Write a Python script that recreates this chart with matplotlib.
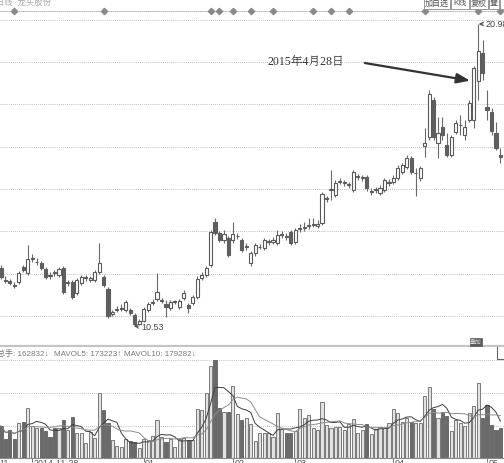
import numpy as np
import pandas as pd
import matplotlib
matplotlib.use("Agg")
import matplotlib.pyplot as plt
from matplotlib.patches import Rectangle
from matplotlib.transforms import blended_transform_factory

plt.rcParams['font.family'] = ['Liberation Sans', 'Noto Sans CJK SC', 'DejaVu Sans']

# 日K线数据
opens = [12.54, 12.12, 12.09, 11.95, 12.05, 12.57, 12.36, 12.85, 12.74, 12.71,
         12.50, 12.29, 12.40, 12.29, 12.54, 12.02, 12.05, 11.67, 12.02, 12.19,
         12.12, 12.12, 12.40, 12.23, 11.81, 10.95, 11.08, 11.12, 11.08, 11.08,
         10.91, 10.60, 10.70, 11.08, 11.33, 11.46, 11.40, 11.29, 11.15, 11.36,
         11.19, 11.50, 11.26, 11.33, 11.53, 12.19, 12.29, 12.64, 14.13, 13.75,
         13.51, 13.58, 13.51, 13.64, 13.51, 13.26, 12.71, 13.06, 13.26, 13.23,
         13.44, 13.44, 13.40, 13.68, 13.64, 13.78, 13.44, 13.89, 13.92, 13.99,
         14.03, 13.99, 14.09, 14.92, 15.24, 15.06, 15.51, 15.48, 15.41, 15.24,
         15.69, 15.65, 15.69, 15.17, 15.24, 15.13, 15.24, 15.48, 15.51, 15.65,
         15.86, 16.03, 16.34, 15.82, 15.65, 16.76, 17.07, 18.35, 16.86, 17.42,
         16.79, 16.45, 17.24, 17.48, 17.14, 17.66, 17.66, 19.01, 19.98, 18.11,
         17.94, 17.21, 16.45]
closes = [12.23, 12.09, 12.02, 11.91, 12.36, 12.47, 12.85, 12.88, 12.76, 12.54,
          12.23, 12.26, 12.36, 12.50, 11.71, 12.05, 11.53, 12.12, 12.23, 12.21,
          12.19, 12.40, 12.71, 11.95, 10.88, 11.01, 11.12, 11.15, 11.36, 10.98,
          10.60, 10.70, 11.12, 11.29, 11.36, 11.71, 11.43, 11.19, 11.36, 11.38,
          11.40, 11.67, 11.15, 11.53, 12.16, 12.29, 12.54, 13.78, 13.75, 13.51,
          13.71, 12.99, 13.71, 13.66, 13.16, 13.30, 13.06, 13.33, 13.28, 13.51,
          13.46, 13.51, 13.68, 13.71, 13.61, 13.40, 13.85, 13.92, 13.96, 14.03,
          14.06, 14.06, 15.10, 14.96, 15.27, 15.48, 15.55, 15.51, 15.43, 15.86,
          15.70, 15.66, 15.31, 15.18, 15.25, 15.31, 15.58, 15.49, 15.65, 16.00,
          16.10, 16.34, 15.86, 15.83, 16.00, 16.86, 18.56, 17.07, 17.21, 17.14,
          16.45, 17.07, 17.55, 17.50, 17.42, 18.25, 19.46, 20.04, 19.29, 18.00,
          17.28, 16.69, 16.38]
highs = [12.64, 12.26, 12.16, 12.05, 12.43, 12.64, 13.33, 13.02, 12.88, 12.78,
         12.57, 12.40, 12.47, 12.57, 12.61, 12.12, 12.12, 12.19, 12.29, 12.29,
         12.26, 12.47, 13.40, 12.29, 11.88, 11.08, 11.22, 11.29, 11.43, 11.15,
         10.98, 10.77, 11.19, 11.36, 11.46, 12.36, 11.50, 11.43, 11.43, 11.43,
         11.46, 11.78, 11.33, 11.60, 12.26, 12.40, 12.61, 13.85, 14.27, 13.82,
         13.85, 13.64, 14.13, 13.75, 13.58, 13.40, 13.12, 13.40, 13.37, 13.58,
         13.54, 13.61, 13.85, 13.82, 13.75, 13.85, 13.92, 14.06, 14.13, 14.27,
         14.27, 14.20, 15.17, 15.03, 15.93, 15.58, 15.65, 15.58, 15.51, 15.93,
         15.79, 15.76, 15.76, 15.31, 15.34, 15.41, 15.65, 15.62, 15.76, 16.10,
         16.17, 16.45, 16.41, 16.00, 16.07, 17.38, 18.70, 18.45, 17.76, 17.76,
         17.21, 17.14, 17.66, 17.83, 17.66, 18.35, 19.53, 20.98, 20.43, 18.70,
         18.07, 17.59, 16.69]
lows = [12.16, 12.02, 11.95, 11.84, 11.98, 12.40, 12.29, 12.74, 12.64, 12.47,
        12.16, 12.16, 12.26, 12.23, 11.64, 11.91, 11.46, 11.60, 11.95, 12.09,
        12.05, 12.05, 12.33, 11.88, 10.81, 10.88, 11.01, 11.05, 11.01, 10.91,
        10.53, 10.56, 10.67, 11.01, 11.26, 11.40, 11.33, 10.84, 11.08, 11.29,
        11.12, 11.43, 10.98, 11.26, 11.46, 12.12, 12.23, 12.57, 13.68, 13.44,
        13.40, 12.92, 13.40, 13.54, 13.09, 13.16, 12.61, 12.95, 13.19, 13.16,
        13.33, 13.37, 13.33, 13.58, 13.51, 13.33, 13.37, 13.78, 13.82, 13.89,
        13.96, 13.92, 14.03, 14.82, 14.89, 14.99, 15.44, 15.37, 15.30, 15.17,
        15.58, 15.55, 15.20, 15.06, 15.13, 15.06, 15.17, 15.37, 15.44, 15.58,
        15.79, 15.96, 15.79, 15.03, 15.55, 16.38, 16.97, 16.97, 16.34, 16.97,
        16.38, 16.38, 17.17, 17.14, 16.97, 17.59, 17.38, 18.35, 19.04, 17.66,
        17.14, 16.62, 16.17]
volumes = [173800, 103200, 152000, 103200, 190000, 195500, 271500, 173800, 162800, 162800,
           146600, 114000, 162800, 162800, 206300, 152000, 222600, 135800, 135800, 81500,
           141200, 108600, 353000, 260600, 190000, 97700, 65200, 59700, 103200, 92300,
           86900, 54300, 103200, 97700, 119500, 206300, 114000, 86900, 103200, 59700,
           103200, 108600, 97700, 97700, 266100, 260600, 353000, 499600, 532100, 271500,
           249800, 249800, 391000, 238900, 206300, 217200, 184600, 92300, 135800, 135800,
           135800, 114000, 244400, 157500, 135800, 135800, 146600, 266100, 217200, 233500,
           162800, 152000, 304100, 179200, 162800, 168300, 168300, 152000, 184600, 211800,
           135800, 152000, 184600, 130300, 157500, 168300, 162800, 190000, 266100, 244400,
           195500, 217200, 195500, 190000, 190000, 336700, 385500, 266100, 217200, 249800,
           228100, 146600, 206300, 190000, 173800, 244400, 282400, 407300, 217200, 287800,
           179200, 152000, 162832]

event_days = [3, 23, 47, 49, 52, 56, 61, 70, 74, 78, 95, 107, 112]
tick_pos = [7, 32, 52, 66, 88, 109]
tick_text = ["2014-11-28", "01", "02", "03", "04", "05"]

W, H = 504, 463
fig = plt.figure(figsize=(W / 100, H / 100), dpi=100)


def fx(p):
    return p / W


def fy(p):
    return 1 - p / H


ax = fig.add_axes([0, fy(346), 1, (346 - 11) / H])
axv = fig.add_axes([0, fy(458), 1, (458 - 347) / H])

o = np.array(opens)
c = np.array(closes)
hi = np.array(highs)
lo = np.array(lows)
v = np.array(volumes, dtype=float)
x = np.arange(len(o))
up = c >= o

# K线
body_lo = np.minimum(o, c)
body_h = np.maximum(np.abs(c - o), 0.02)
ax.vlines(x, lo, hi, color='#6a6a6a', lw=0.8, zorder=2)
ax.bar(x[up], body_h[up], bottom=body_lo[up], width=0.7, color='white',
       edgecolor='#5a5a5a', lw=0.8, zorder=3)
ax.bar(x[~up], body_h[~up], bottom=body_lo[~up], width=0.7, color='#5e5e5e',
       edgecolor='#5e5e5e', lw=0.8, zorder=3)

ax.set_xlim(-0.22, 112.8)
ax.set_ylim(9.838, 21.43)
ax.set_yticks(np.arange(10.88, 21.2, 1.463))
ax.grid(axis='y', color='#aaaaaa', lw=0.6, ls=(0, (1, 1.5)))
ax.set_xticks([])
ax.tick_params(left=False, labelleft=False)
for s in ['left', 'right']:
    ax.spines[s].set_visible(False)
ax.spines['top'].set_color('#aaaaaa')
ax.spines['top'].set_linestyle((0, (1, 1.5)))
ax.spines['top'].set_linewidth(0.6)
ax.spines['bottom'].set_color('#c4c4c4')
ax.spines['bottom'].set_linewidth(1.6)

# 信息地雷
tr = blended_transform_factory(ax.transData, ax.transAxes)
ax.plot(event_days, [1.0] * len(event_days), 'D', color='#8a8a8a', ms=3.2,
        transform=tr, clip_on=False, zorder=5)

# 最高最低标注
imax = int(np.argmax(hi))
imin = int(np.argmin(lo))
ax.annotate(f"{hi[imax]:.2f}", xy=(imax + 0.15, hi[imax]), xytext=(imax + 1.7, hi[imax]),
            fontsize=6.5, color='#444', va='center',
            arrowprops=dict(arrowstyle='->', color='#444', lw=0.7, shrinkA=0, shrinkB=0))
ax.annotate(f"{lo[imin]:.2f}", xy=(imin - 0.2, lo[imin]), xytext=(imin + 1.4, lo[imin] - 0.05),
            fontsize=6.5, color='#444', va='center',
            arrowprops=dict(arrowstyle='->', color='#444', lw=0.7, shrinkA=0, shrinkB=0))

ax.text(68.4, 19.63, "2015年4月28日", fontsize=8.5, color='#333', ha='center', va='center',
        family=['Liberation Serif', 'Noto Serif CJK SC', 'Noto Sans CJK SC'])
ax.annotate("", xy=(105.2, 19.02), xytext=(81.6, 19.63),
            arrowprops=dict(arrowstyle='-|>,head_length=0.8,head_width=0.3',
                            color='#333', lw=1.6, shrinkA=0, shrinkB=0))

# 成交量
axv.bar(x[up], v[up], width=0.7, color='#e2e2e2', edgecolor='#7a7a7a', lw=0.7, zorder=2)
axv.bar(x[~up], v[~up], width=0.7, color='#6a6a6a', edgecolor='#6a6a6a', lw=0.7, zorder=2)
ma5 = pd.Series(v).rolling(5, min_periods=1).mean()
ma10 = pd.Series(v).rolling(10, min_periods=1).mean()
axv.plot(x, ma5, color='#3c3c3c', lw=0.7, zorder=3)
axv.plot(x, ma10, color='#8c8c8c', lw=0.7, zorder=3)

axv.set_xlim(-0.22, 112.8)
axv.set_ylim(0, 602700)
axv.set_yticks([173800, 353000, 532100])
axv.grid(axis='y', color='#aaaaaa', lw=0.6, ls=(0, (1, 1.5)))
axv.tick_params(left=False, labelleft=False)
for s in ['left', 'right', 'top']:
    axv.spines[s].set_visible(False)
axv.spines['bottom'].set_color('#888888')
axv.set_xticks(tick_pos)
axv.set_xticklabels([])
axv.tick_params(axis='x', length=3, color='#777777', width=0.7)
trv = blended_transform_factory(axv.transData, axv.transAxes)
for p, t in zip(tick_pos, tick_text):
    axv.text(p + 0.3, -0.01, t, transform=trv, fontsize=6.5, color='#555',
             ha='left', va='top', clip_on=False)
axv.text(-0.3, -0.01, "11", transform=trv, fontsize=6.5, color='#555',
         ha='left', va='top', clip_on=False)

# 顶部及面板文字
fig.text(fx(-4), fy(3), "日线  龙头股份", fontsize=6, color='#aaaaaa', va='center')
fig.text(fx(-3), fy(354), "总手: 162832↓", fontsize=5.8, color='#777777', va='center')
fig.text(fx(54), fy(354), "MAVOL5: 173223↑", fontsize=5.8, color='#777777', va='center')
fig.text(fx(124), fy(354), "MAVOL10: 179282↓", fontsize=5.8, color='#777777', va='center')

buttons = [("加自选", 424, 450), ("K线", 451, 469), ("复权", 470, 488), ("叠", 489, 499), ("", 500, 510)]
for label, x0, x1 in buttons:
    fig.patches.append(Rectangle((fx(x0), fy(8.5)), fx(x1 - x0), 12 / H, transform=fig.transFigure,
                                 facecolor='white', edgecolor='#888888', lw=0.6))
    fig.text(fx((x0 + x1) / 2), fy(3.5), label, fontsize=5.8, color='#555', ha='center', va='center')

fig.patches.append(Rectangle((fx(470), fy(346)), fx(12), 8 / H, transform=fig.transFigure,
                             facecolor='#5a5a5a', edgecolor='#5a5a5a', lw=0.5))
fig.text(fx(476), fy(342), "叠加", fontsize=4.2, color='#dddddd', ha='center', va='center')
fig.lines.append(plt.Line2D([fx(497), fx(497), fx(504)], [fy(347), fy(359), fy(359)],
                            transform=fig.transFigure, color='#666666', lw=0.8))

fig.savefig("out.png", dpi=100)
